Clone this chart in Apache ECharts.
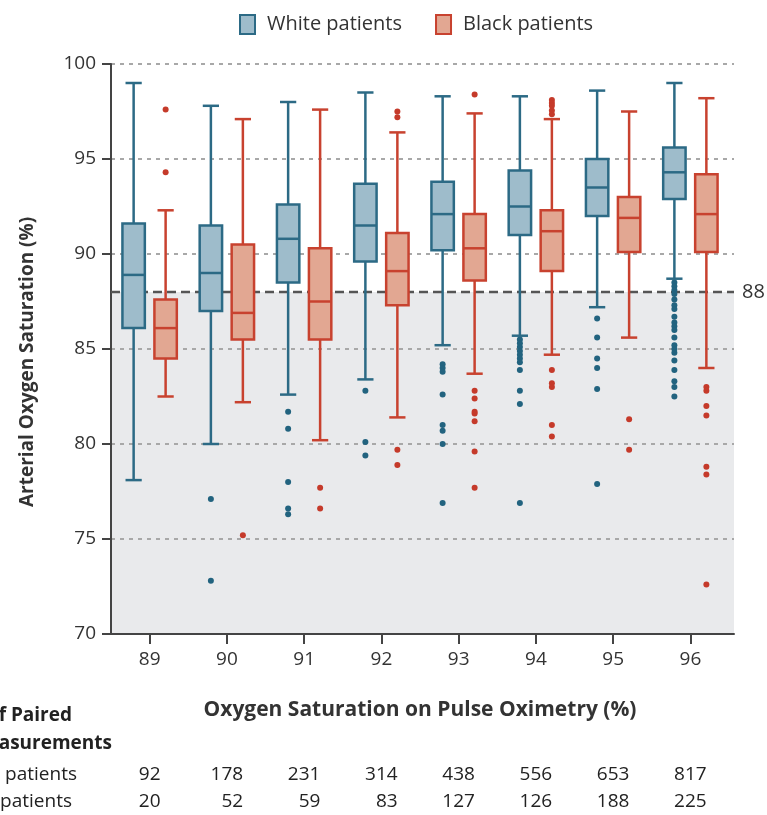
<!DOCTYPE html>
<html>
<head>
<meta charset="utf-8">
<script src="https://cdn.jsdelivr.net/npm/echarts@6/dist/echarts.min.js"></script>
<style>
  html, body { margin: 0; padding: 0; background: #ffffff; }
  #chart { width: 767px; height: 815px; }
</style>
</head>
<body>
<div id="chart"></div>
<script>
// Pulse-oximetry bins (x categories)
const categories = ['89', '90', '91', '92', '93', '94', '95', '96'];

// Box summaries per bin: [min whisker, Q1, median, Q3, max whisker]
const whiteBoxes = [
  [78.1, 86.1, 88.9, 91.6, 99.0],
  [80.0, 87.0, 89.0, 91.5, 97.8],
  [82.6, 88.5, 90.8, 92.6, 98.0],
  [83.4, 89.6, 91.5, 93.7, 98.5],
  [85.2, 90.2, 92.1, 93.8, 98.3],
  [85.7, 91.0, 92.5, 94.4, 98.3],
  [87.2, 92.0, 93.5, 95.0, 98.6],
  [88.7, 92.9, 94.3, 95.6, 99.0]
];
const blackBoxes = [
  [82.5, 84.5, 86.1, 87.6, 92.3],
  [82.2, 85.5, 86.9, 90.5, 97.1],
  [80.2, 85.5, 87.5, 90.3, 97.6],
  [81.4, 87.3, 89.1, 91.1, 96.4],
  [83.7, 88.6, 90.3, 92.1, 97.4],
  [84.7, 89.1, 91.2, 92.3, 97.1],
  [85.6, 90.1, 91.9, 93.0, 97.5],
  [84.0, 90.1, 92.1, 94.2, 98.2]
];

// Outlying measurements per bin
const whiteOutliers = [
  [],
  [77.1, 72.8],
  [81.7, 80.8, 78.0, 76.6, 76.3],
  [82.8, 80.1, 79.4],
  [84.2, 84.0, 83.8, 82.6, 81.0, 80.7, 80.0, 76.9],
  [85.5, 85.3, 85.1, 84.9, 84.7, 84.5, 84.3, 83.9, 82.8, 82.1, 76.9],
  [86.6, 85.6, 84.5, 84.0, 82.9, 77.9],
  [88.5, 88.3, 88.1, 87.9, 87.6, 87.3, 87.1, 86.7, 86.4, 86.2, 86.0, 85.6, 85.2, 85.0, 84.8, 84.4, 83.9, 83.3, 83.0, 82.5]
];
const blackOutliers = [
  [97.6, 94.3],
  [75.2],
  [77.7, 76.6],
  [97.5, 97.2, 79.7, 78.9],
  [98.4, 82.8, 82.4, 81.7, 81.6, 81.2, 79.6, 77.7],
  [98.1, 97.95, 97.8, 97.55, 97.35, 83.9, 83.2, 83.0, 81.0, 80.4],
  [81.3, 79.7],
  [83.0, 82.8, 82.0, 81.5, 78.8, 78.4, 72.6]
];

// Number of paired measurements per bin
const whiteCounts = [92, 178, 231, 314, 438, 556, 653, 817];
const blackCounts = [20, 52, 59, 83, 127, 126, 188, 225];

const groupNames = ['White patients', 'Black patients'];
const tableHeading = ['No. of Paired', 'Measurements'];
const thresholdValue = 88;
const yMin = 70, yMax = 100, yStep = 5;

const FONT = 'Open Sans';
const FS = 19;
const whiteFill = '#9ebccb', whiteStroke = '#2c6a85', whiteDot = '#22637f';
const blackFill = '#e2a792', blackStroke = '#c8422f', blackDot = '#c53a2a';

function boxRenderer(side, fill, stroke) {
  return function (params, api) {
    const idx = api.value(0);
    const band = api.size([1, 0])[0];
    const cx = api.coord([idx, 0])[0] + side * band * 0.207;
    const pMin = api.coord([idx, api.value(1)])[1];
    const pQ1 = api.coord([idx, api.value(2)])[1];
    const pMed = api.coord([idx, api.value(3)])[1];
    const pQ3 = api.coord([idx, api.value(4)])[1];
    const pMax = api.coord([idx, api.value(5)])[1];
    const bw = band * 0.29;
    const cw = band * 0.21;
    const ls = { stroke: stroke, lineWidth: 2.5, fill: null };
    return {
      type: 'group',
      children: [
        { type: 'line', shape: { x1: cx, y1: pMax, x2: cx, y2: pQ3 }, style: ls },
        { type: 'line', shape: { x1: cx, y1: pQ1, x2: cx, y2: pMin }, style: ls },
        { type: 'line', shape: { x1: cx - cw / 2, y1: pMax, x2: cx + cw / 2, y2: pMax }, style: ls },
        { type: 'line', shape: { x1: cx - cw / 2, y1: pMin, x2: cx + cw / 2, y2: pMin }, style: ls },
        { type: 'rect', shape: { x: cx - bw / 2, y: pQ3, width: bw, height: pQ1 - pQ3 },
          style: { fill: fill, stroke: stroke, lineWidth: 2.5 } },
        { type: 'line', shape: { x1: cx - bw / 2, y1: pMed, x2: cx + bw / 2, y2: pMed }, style: ls }
      ]
    };
  };
}

function boxData(boxes) {
  return boxes.map((b, i) => [i].concat(b));
}
function outlierData(lists) {
  const out = [];
  lists.forEach((vals, i) => vals.forEach(v => out.push([i, v])));
  return out;
}

const chart = echarts.init(document.getElementById('chart'), null, { renderer: 'canvas' });

const option = {
  animation: false,
  backgroundColor: '#ffffff',
  textStyle: { fontFamily: FONT },
  legend: {
    top: 9,
    left: 234,
    itemWidth: 15,
    itemHeight: 19,
    itemGap: 33,
    selectedMode: false,
    textStyle: { fontSize: 20, color: '#333', fontFamily: FONT, padding: [0, 0, 0, 7] },
    data: [
      { name: groupNames[0], icon: 'rect', itemStyle: { color: whiteFill, borderColor: whiteStroke, borderWidth: 2 } },
      { name: groupNames[1], icon: 'rect', itemStyle: { color: blackFill, borderColor: blackStroke, borderWidth: 2 } }
    ]
  },
  grid: [
    { left: 111, width: 618, top: 64, height: 570 },
    { left: 111, right: 33, top: 64, height: 570 }
  ],
  xAxis: [
    {
      type: 'category',
      gridIndex: 0,
      data: categories,
      boundaryGap: true,
      axisLine: { show: false },
      axisTick: { show: true, alignWithLabel: true, length: 10, lineStyle: { color: '#444', width: 2 } },
      axisLabel: { fontSize: FS, color: '#333', margin: 16, fontFamily: FONT },
      name: 'Oxygen Saturation on Pulse Oximetry (%)',
      nameLocation: 'middle',
      nameGap: 66,
      nameTextStyle: { fontSize: 21, fontWeight: 'bold', color: '#333', fontFamily: FONT }
    },
    {
      type: 'value',
      gridIndex: 1,
      min: 0,
      max: 1,
      axisLine: { show: true, lineStyle: { color: '#444', width: 2 } },
      axisTick: { show: false },
      axisLabel: { show: false },
      splitLine: { show: false }
    }
  ],
  yAxis: [
    {
      type: 'value',
      gridIndex: 0,
      min: yMin,
      max: yMax,
      interval: yStep,
      axisLine: { show: true, lineStyle: { color: '#444', width: 2 } },
      axisTick: { show: true, length: 9, lineStyle: { color: '#444', width: 2 } },
      axisLabel: { fontSize: FS, color: '#333', margin: 15, fontFamily: FONT },
      splitLine: { show: false },
      name: 'Arterial Oxygen Saturation (%)',
      nameLocation: 'middle',
      nameGap: 74,
      nameTextStyle: { fontSize: FS, fontWeight: 'bold', color: '#333', fontFamily: FONT, padding: [0, 26, 0, 0] }
    },
    {
      type: 'value',
      gridIndex: 1,
      min: yMin,
      max: yMax,
      interval: yStep,
      axisLine: { show: false },
      axisTick: { show: false },
      axisLabel: { show: false },
      splitLine: { show: true, lineStyle: { color: '#a8a8a8', width: 2, type: [4, 5] } }
    }
  ],
  series: [
    {
      // shaded region below the threshold
      type: 'custom',
      xAxisIndex: 1,
      yAxisIndex: 1,
      z: -1,
      silent: true,
      data: [[0, yMin, thresholdValue]],
      renderItem: function (params, api) {
        const p0 = api.coord([0, api.value(1)]);
        const p1 = api.coord([1, api.value(2)]);
        return {
          type: 'rect',
          shape: { x: p0[0], y: p1[1], width: p1[0] - p0[0], height: p0[1] - p1[1] },
          style: { fill: '#e9eaec' }
        };
      }
    },
    {
      // threshold line with its value label
      type: 'custom',
      xAxisIndex: 1,
      yAxisIndex: 1,
      z: 3,
      silent: true,
      data: [[0, thresholdValue]],
      renderItem: function (params, api) {
        const p0 = api.coord([0, api.value(1)]);
        const p1 = api.coord([1, api.value(1)]);
        return {
          type: 'group',
          children: [
            { type: 'line', shape: { x1: p0[0], y1: p0[1], x2: p1[0], y2: p1[1] },
              style: { stroke: '#555', lineWidth: 2.5, lineDash: [9, 5] } },
            { type: 'text', x: p1[0] + 8, y: p1[1],
              style: { text: String(api.value(1)), fontSize: FS + 1, fontFamily: FONT, fill: '#333',
                       verticalAlign: 'middle', align: 'left' } }
          ]
        };
      }
    },
    {
      name: groupNames[0],
      type: 'custom',
      xAxisIndex: 0,
      yAxisIndex: 0,
      z: 4,
      itemStyle: { color: whiteFill },
      encode: { x: 0, y: [1, 2, 3, 4, 5] },
      data: boxData(whiteBoxes),
      renderItem: boxRenderer(-1, whiteFill, whiteStroke)
    },
    {
      name: groupNames[1],
      type: 'custom',
      xAxisIndex: 0,
      yAxisIndex: 0,
      z: 4,
      itemStyle: { color: blackFill },
      encode: { x: 0, y: [1, 2, 3, 4, 5] },
      data: boxData(blackBoxes),
      renderItem: boxRenderer(1, blackFill, blackStroke)
    },
    {
      name: groupNames[0],
      type: 'scatter',
      xAxisIndex: 0,
      yAxisIndex: 0,
      z: 5,
      symbol: 'circle',
      symbolSize: 6,
      symbolOffset: [-16, 0],
      itemStyle: { color: whiteDot, opacity: 1 },
      data: outlierData(whiteOutliers)
    },
    {
      name: groupNames[1],
      type: 'scatter',
      xAxisIndex: 0,
      yAxisIndex: 0,
      z: 5,
      symbol: 'circle',
      symbolSize: 6,
      symbolOffset: [16, 0],
      itemStyle: { color: blackDot, opacity: 1 },
      data: outlierData(blackOutliers)
    }
  ]
};

chart.setOption(option);

// Count table below the axis: each column is right-aligned and centred on its category
const measureCtx = document.createElement('canvas').getContext('2d');
measureCtx.font = FS + 'px "' + FONT + '"';
const tableTexts = [];
const headStyle = { fontSize: FS, fontWeight: 'bold', fontFamily: FONT, fill: '#222', align: 'right', verticalAlign: 'middle' };
tableTexts.push({ type: 'text', x: 72, y: 716, style: Object.assign({ text: tableHeading[0] }, headStyle) });
tableTexts.push({ type: 'text', x: 112, y: 744, style: Object.assign({ text: tableHeading[1] }, headStyle) });
const rowStyle = { fontSize: FS, fontFamily: FONT, fill: '#222', align: 'right', verticalAlign: 'middle' };
tableTexts.push({ type: 'text', x: 77, y: 775, style: Object.assign({ text: groupNames[0] }, rowStyle) });
tableTexts.push({ type: 'text', x: 72, y: 802, style: Object.assign({ text: groupNames[1] }, rowStyle) });
categories.forEach((c, i) => {
  const px = chart.convertToPixel({ xAxisIndex: 0 }, i);
  const a = String(whiteCounts[i]), b = String(blackCounts[i]);
  const colW = Math.max(measureCtx.measureText(a).width, measureCtx.measureText(b).width);
  const right = px + colW / 2;
  tableTexts.push({ type: 'text', x: right, y: 775, style: Object.assign({ text: a }, rowStyle) });
  tableTexts.push({ type: 'text', x: right, y: 802, style: Object.assign({ text: b }, rowStyle) });
});
chart.setOption({ graphic: tableTexts });
</script>
</body>
</html>
